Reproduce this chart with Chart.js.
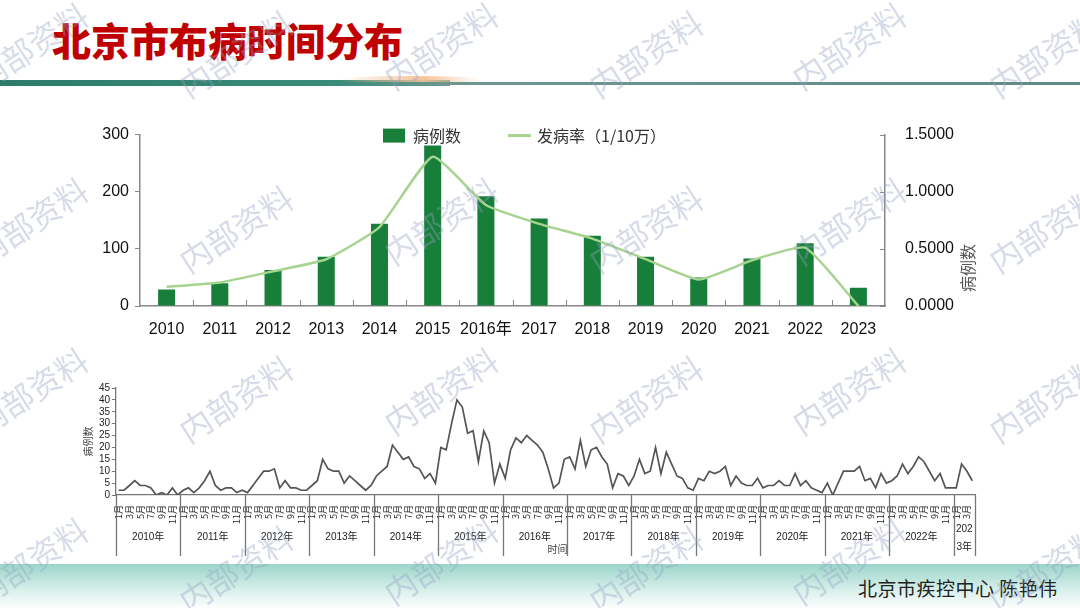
<!DOCTYPE html>
<html lang="zh">
<head>
<meta charset="UTF-8">
<title>北京市布病时间分布</title>
<style>
  body { margin: 0; width: 1080px; height: 608px; position: relative; overflow: hidden; background: #fff; font-family: "Noto Sans CJK SC", sans-serif; }
  .title { position: absolute; left: 52px; top: 14px; margin: 0; font-size: 39px; line-height: 50px; font-weight: 900; color: #c00000; }
  .band { position: absolute; left: 0; top: 80px; width: 450px; height: 6px; background: linear-gradient(to right, #2d7b69, #3a8c78 75%, #6f9790); }
  .band2 { position: absolute; left: 440px; top: 82px; width: 640px; height: 3px; background: linear-gradient(to right, #6f9790, #5e8b86); }
  .swoosh { position: absolute; left: 340px; top: 76px; width: 140px; height: 6px; border-radius: 50% 50% 0 0; background: linear-gradient(to right, rgba(245,200,160,0), rgba(242,190,145,0.9) 60%, rgba(245,200,160,0)); }
  .footer { position: absolute; left: 0; top: 564px; width: 1080px; height: 44px; background: linear-gradient(to bottom, #9ad5c9, #d9f0eb 60%, #fdfefe); }
  .footer span { position: absolute; left: 858px; top: 10px; font-size: 19px; color: #222; letter-spacing: 0.5px; }
  #top { position: absolute; left: 90px; top: 113px; }
  #bottom { position: absolute; left: 60px; top: 380px; }
  .wm { position: absolute; font-size: 32px; color: rgba(150, 160, 195, 0.38); transform: translate(-50%, -50%) rotate(-33deg); white-space: nowrap; pointer-events: none; }
</style>
</head>
<body>
<h1 class="title">北京市布病时间分布</h1>
<div class="band"></div><div class="band2"></div><div class="swoosh"></div>
<canvas id="top" width="895" height="230"></canvas>
<canvas id="bottom" width="930" height="185"></canvas>
<div class="footer"><span>北京市疾控中心 陈艳伟</span></div>
<div id="marks"></div>

<script src="https://cdn.jsdelivr.net/npm/chart.js@4.4.0/dist/chart.umd.min.js"></script>
<script>
// 年度数据
const yearLabels = ['2010', '2011', '2012', '2013', '2014', '2015', '2016年', '2017', '2018', '2019', '2020', '2021', '2022', '2023'];
const yearCases = [29, 40, 63, 86, 144, 281, 192, 153, 123, 86, 50, 83, 110, 32];
const yearRate = [0.168, 0.206, 0.304, 0.409, 0.69, 1.307, 0.884, 0.719, 0.59, 0.41, 0.232, 0.40, 0.51, 0.0];

// 月度数据 (2010年1月 - 2023年4月)
const yearNames = ['2010年', '2011年', '2012年', '2013年', '2014年', '2015年', '2016年', '2017年', '2018年', '2019年', '2020年', '2021年', '2022年', '2023年'];
const monthsInYear = [12, 12, 12, 12, 12, 12, 12, 12, 12, 12, 12, 12, 12, 4];
const monthlyCases = [
  2, 2, 4, 6, 4, 4, 3, 0, 1, 0, 3, 0,
  2, 3, 1, 3, 6, 10, 4, 2, 3, 3, 1, 2,
  1, 4, 7, 10, 10, 11, 3, 6, 3, 3, 2, 2,
  4, 6, 15, 11, 10, 10, 5, 8, 6, 4, 2, 4,
  8, 10, 12, 21, 18, 15, 16, 12, 11, 7, 9, 5,
  20, 19, 30, 40, 37, 26, 27, 14, 27, 22, 5, 13,
  7, 19, 24, 22, 25, 23, 21, 18, 11, 3, 5, 15,
  16, 11, 23, 12, 19, 20, 16, 13, 3, 9, 8, 4,
  8, 15, 9, 10, 20, 9, 18, 13, 8, 7, 3, 2,
  7, 6, 10, 9, 10, 12, 4, 8, 5, 4, 4, 7,
  3, 4, 4, 6, 4, 4, 9, 4, 6, 3, 2, 1,
  5, 0, 5, 10, 10, 10, 12, 6, 7, 3, 9, 5,
  6, 8, 13, 9, 12, 16, 14, 10, 6, 9, 3, 3,
  3, 13, 10, 6
];
const monthLabels = [];
monthsInYear.forEach(n => { for (let m = 1; m <= n; m++) monthLabels.push(m + '月'); });

const axisGrey = '#888';
const latin = '"Liberation Sans", "Noto Sans CJK SC", sans-serif';
const cjk = '"Noto Sans CJK SC", sans-serif';

// 上图: 图例, 横轴小刻度, 右侧轴标题
const topExtras = {
  id: 'topExtras',
  afterDraw(chart) {
    const { ctx, chartArea: a, scales: { x, y1 } } = chart;
    ctx.save();
    // x 轴刻度 (向上)
    const w = x.getPixelForValue(1) - x.getPixelForValue(0);
    ctx.strokeStyle = axisGrey; ctx.lineWidth = 1;
    for (let i = 1; i < chart.data.labels.length; i++) {
      const px = Math.round(x.getPixelForValue(i) - w / 2) + 0.5;
      ctx.beginPath(); ctx.moveTo(px, a.bottom); ctx.lineTo(px, a.bottom - 6); ctx.stroke();
    }
    // 右轴刻度 (向内)
    y1.ticks.forEach(t => {
      const py = Math.round(y1.getPixelForValue(t.value)) + 0.5;
      ctx.beginPath(); ctx.moveTo(a.right, py); ctx.lineTo(a.right - 5, py); ctx.stroke();
    });
    // 图例
    let lx = 293; const ly = a.top + 1;
    ctx.font = '16px ' + cjk; ctx.textBaseline = 'middle'; ctx.textAlign = 'left';
    chart.data.datasets.forEach(ds => {
      if (ds.type === 'bar') {
        ctx.fillStyle = ds.backgroundColor; ctx.fillRect(lx, ly - 7, 22, 14); lx += 30;
      } else {
        ctx.strokeStyle = ds.borderColor; ctx.lineWidth = 3;
        ctx.beginPath(); ctx.moveTo(lx - 4, ly); ctx.lineTo(lx + 19, ly); ctx.stroke(); lx += 25;
      }
      ctx.fillStyle = '#333'; ctx.fillText(ds.label, lx, ly);
      lx += ctx.measureText(ds.label).width + 51;
    });
    // 右侧标题
    ctx.translate(878, a.bottom - 38); ctx.rotate(-Math.PI / 2);
    ctx.textAlign = 'center'; ctx.fillStyle = '#555'; ctx.font = '16px ' + cjk;
    ctx.fillText('病例数', 0, 0);
    ctx.restore();
  }
};

new Chart(document.getElementById('top'), {
  data: {
    labels: yearLabels,
    datasets: [
      { type: 'bar', label: '病例数', data: yearCases, yAxisID: 'y', backgroundColor: '#177f3a', categoryPercentage: 0.8, barPercentage: 0.4, order: 2 },
      { type: 'line', label: '发病率（1/10万）', data: yearRate, yAxisID: 'y1', borderColor: '#a6d38f', borderWidth: 2.5, pointRadius: 0, tension: 0.15, order: 1 }
    ]
  },
  options: {
    responsive: false, animation: false,
    layout: { padding: { top: 10 } },
    plugins: { legend: { display: false }, tooltip: { enabled: false } },
    scales: {
      x: {
        grid: { display: false }, border: { color: axisGrey, width: 1.5 },
        ticks: { color: '#111', font: { size: 16, family: latin }, padding: 6, maxRotation: 0, autoSkip: false },
        afterFit(s) { s.height = 37; }
      },
      y: {
        position: 'left', min: 0, max: 300,
        ticks: { stepSize: 100, color: '#111', font: { size: 16, family: latin }, padding: 6 },
        grid: { drawOnChartArea: false, tickLength: 5, color: axisGrey }, border: { color: axisGrey, width: 1.5 },
        afterFit(s) { s.width = 50; }
      },
      y1: {
        position: 'right', min: 0, max: 1.5,
        ticks: { stepSize: 0.5, color: '#111', font: { size: 16, family: latin }, padding: 12, callback: v => v.toFixed(4) },
        grid: { display: false }, border: { color: axisGrey, width: 1.5 },
        afterFit(s) { s.width = 100; }
      }
    }
  },
  plugins: [topExtras]
});

// 下图: 年份分组与"时间"
const yearGroups = {
  id: 'yearGroups',
  afterDraw(chart) {
    const { ctx, chartArea: a, scales: { x } } = chart;
    const half = (x.getPixelForValue(1) - x.getPixelForValue(0)) / 2;
    const lineEnd = chart.height - 9;
    ctx.save();
    ctx.strokeStyle = '#777'; ctx.lineWidth = 1.3;
    ctx.fillStyle = '#222'; ctx.font = '10px ' + latin;
    ctx.textAlign = 'center'; ctx.textBaseline = 'middle';
    let start = 0, x1 = a.left;
    yearNames.forEach((name, i) => {
      const n = monthsInYear[i];
      const x0 = x.getPixelForValue(start) - half;
      x1 = x.getPixelForValue(start + n - 1) + half;
      ctx.beginPath(); ctx.moveTo(Math.round(x0) + 0.5, a.bottom); ctx.lineTo(Math.round(x0) + 0.5, lineEnd); ctx.stroke();
      const cx = (x0 + x1) / 2;
      if (ctx.measureText(name).width > x1 - x0 - 2) {
        ctx.fillText(name.slice(0, 3), cx, a.bottom + 34);
        ctx.fillText(name.slice(3), cx, a.bottom + 52);
      } else {
        ctx.fillText(name, cx, a.bottom + 42);
      }
      start += n;
    });
    ctx.beginPath(); ctx.moveTo(Math.round(x1) + 0.5, a.bottom); ctx.lineTo(Math.round(x1) + 0.5, lineEnd); ctx.stroke();
    ctx.font = '10px ' + cjk; ctx.fillStyle = '#444';
    ctx.fillText('时间', (a.left + a.right) / 2 + 12, a.bottom + 54);
    ctx.restore();
  }
};

new Chart(document.getElementById('bottom'), {
  type: 'line',
  data: {
    labels: monthLabels,
    datasets: [{ label: '病例数', data: monthlyCases, borderColor: '#555', borderWidth: 1.7, pointRadius: 0, tension: 0 }]
  },
  options: {
    responsive: false, animation: false,
    layout: { padding: { top: 8, left: 22, right: 15 } },
    plugins: { legend: { display: false }, tooltip: { enabled: false } },
    scales: {
      x: {
        offset: true,
        grid: { display: false }, border: { color: '#777', width: 1.3 },
        ticks: {
          autoSkip: false, minRotation: 90, maxRotation: 90, padding: 2,
          color: '#222', font: { size: 9, family: cjk },
          callback(v, i) { return i % 12 % 2 === 0 ? this.getLabelForValue(v) : ''; }
        },
        afterFit(s) { s.height = 70; }
      },
      y: {
        min: 0, max: 45,
        ticks: { stepSize: 5, autoSkip: false, color: '#222', font: { size: 10, family: latin }, padding: 2 },
        grid: { drawOnChartArea: false, tickLength: 4, color: '#777' }, border: { color: '#777', width: 1.3 },
        title: { display: true, text: '病例数', color: '#444', font: { size: 10, family: cjk }, padding: { top: 0, bottom: 4 } },
        afterFit(s) { s.width = 34; }
      }
    }
  },
  plugins: [yearGroups]
});

// 水印
const markXs = [30, 235, 440, 645, 848, 1045];
const markYs = [45, 220, 390, 560];
const marks = document.getElementById('marks');
markYs.forEach((my, r) => markXs.forEach((mx, c) => {
  const d = document.createElement('div');
  d.className = 'wm';
  d.textContent = '内部资料';
  d.style.left = mx + 'px';
  d.style.top = (my + ((c % 2) ? 8 : 0)) + 'px';
  marks.appendChild(d);
}));
</script>
</body>
</html>
